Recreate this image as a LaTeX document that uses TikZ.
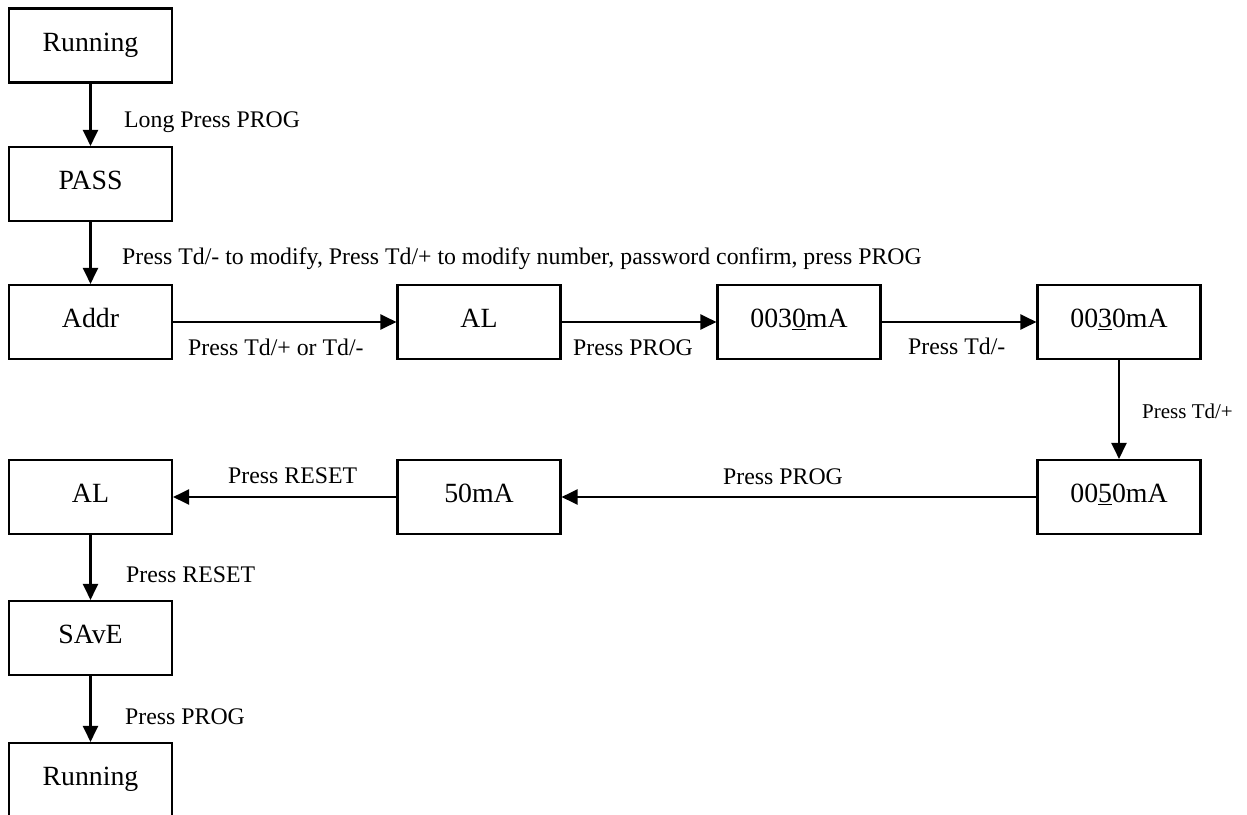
\documentclass[tikz,border=0pt]{standalone}
\usepackage{fontspec}
\setmainfont{Liberation Serif}
\usetikzlibrary{arrows.meta}
\tikzset{
  box/.style={draw, line width=2.1pt, minimum width=163pt, minimum height=74pt, inner sep=0pt,
    text height=19pt, text depth=8pt, font=\fontsize{27.8}{33}\selectfont},
  arr/.style={line width=2.1pt, -{Triangle[length=16pt,width=15pt]}},
  lbl/.style={anchor=base west, inner sep=0pt, font=\fontsize{23.8}{28}\selectfont},
  lbls/.style={anchor=base west, inner sep=0pt, font=\fontsize{21}{25}\selectfont}
}
\begin{document}
\begin{tikzpicture}[x=1pt,y=-1pt]
\useasboundingbox (0,0) rectangle (1247,814);
\clip (0,0) rectangle (1247,814);
\node[box] (run1) at (90.5,45.5) {Running};
\node[box] (pass) at (90.5,184) {PASS};
\node[box] (addr) at (90.5,322) {Addr};
\node[box] (al1) at (479,322) {AL};
\node[box] (ma1) at (799,322) {003\underline{0}mA};
\node[box] (ma2) at (1119,322) {00\underline{3}0mA};
\node[box] (ma3) at (1119,497) {00\underline{5}0mA};
\node[box] (ma4) at (479,497) {50mA};
\node[box] (al2) at (90.5,497) {AL};
\node[box] (save) at (90.5,638) {SAvE};
\node[box] (run2) at (90.5,780) {Running};

\draw[arr] (run1) -- (pass);
\draw[arr] (pass) -- (addr);
\draw[arr] (addr) -- (al1);
\draw[arr] (al1) -- (ma1);
\draw[arr] (ma1) -- (ma2);
\draw[arr] (ma2) -- (ma3);
\draw[arr] (ma3) -- (ma4);
\draw[arr] (ma4) -- (al2);
\draw[arr] (al2) -- (save);
\draw[arr] (save) -- (run2);

\node[lbl] (l1) at (124,127) {Long Press PROG};
\node[lbl] (l2) at (122,264) {Press Td/- to modify, Press Td/+ to modify number, password confirm, press PROG};
\node[lbl] (l3) at (188,355) {Press Td/+ or Td/-};
\node[lbl] (l4) at (573,355) {Press PROG};
\node[lbl] (l5) at (908,354) {Press Td/-};
\node[lbls] (l6) at (1142,418) {Press Td/+};
\node[lbl] (l7) at (228,483) {Press RESET};
\node[lbl] (l8) at (723,484) {Press PROG};
\node[lbl] (l9) at (126,582) {Press RESET};
\node[lbl] (l10) at (125,724) {Press PROG};
\end{tikzpicture}
\end{document}
